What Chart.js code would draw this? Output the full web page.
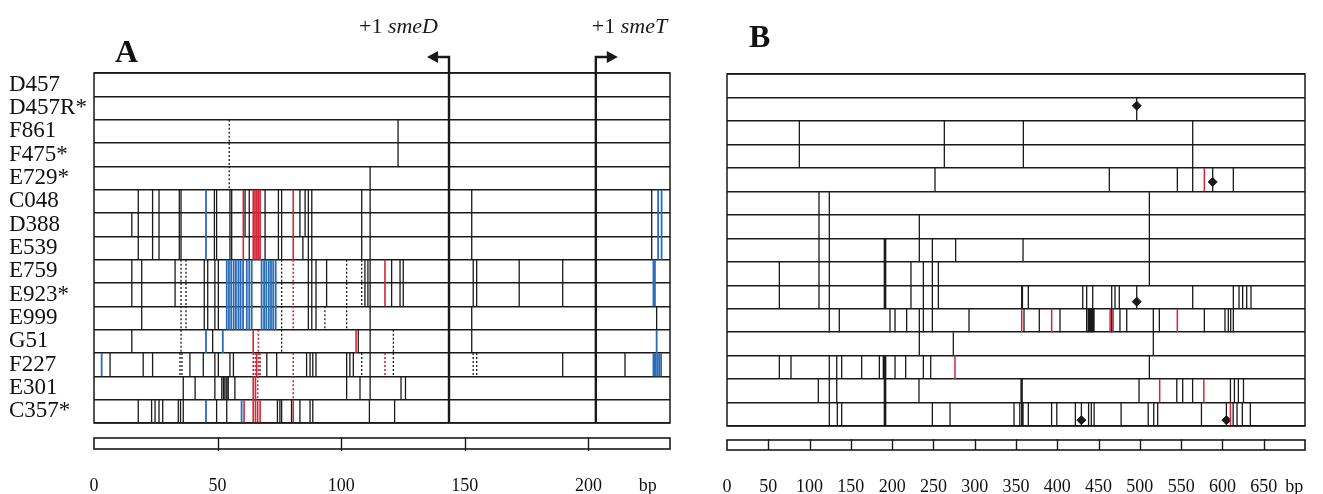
<!DOCTYPE html>
<html>
<head>
<meta charset="utf-8">
<script src="https://cdn.jsdelivr.net/npm/chart.js@4.4.1/dist/chart.umd.min.js"></script>
<style>
  body { margin: 0; background: #fff; }
  #wrap { position: relative; width: 1323px; height: 494px; overflow: hidden; background: #fff; }
  canvas { position: absolute; top: 0; }
  .panel { position: absolute; font: bold 32px 'Liberation Serif', serif; color: #111; }
</style>
</head>
<body>
<div id="wrap">
  <canvas id="chartA" width="700" height="494" style="left:0"></canvas>
  <canvas id="chartB" width="623" height="494" style="left:700px"></canvas>
  <div class="panel" style="left:115px; top:33px">A</div>
  <div class="panel" style="left:749px; top:18px">B</div>
</div>
<script>
// strains, top to bottom
const strains = ['D457', 'D457R*', 'F861', 'F475*', 'E729*', 'C048', 'D388', 'E539',
  'E759', 'E923*', 'E999', 'G51', 'F227', 'E301', 'C357*'];

// axis ticks (bp)
const tickValsA = [0, 50, 100, 150, 200, 224];
const tickLabelsA = ['0', '50', '100', '150', '200', 'bp'];
const tickValsB = [0, 50, 100, 150, 200, 250, 300, 350, 400, 450, 500, 550, 600, 650, 687];
const tickLabelsB = ['0', '50', '100', '150', '200', '250', '300', '350', '400', '450', '500', '550', '600', '650', 'bp'];

// transcription start sites in panel A (bp)
const startSmeD = 143.6;
const startSmeT = 203.0;

// PANEL A - polymorphic positions per strain (bp)
const blackA = [
  [],
  [],
  [123.0],
  [123.0],
  [111.7],
  [17.9, 23.7, 26.3, 34.5, 35.2, 48.7, 49.6, 55.0, 55.7, 61.1, 62.8, 69.2, 74.6, 75.9, 83.3, 85.4, 86.7, 88.1, 108.3, 111.7, 152.8, 225.6],
  [15.3, 17.9, 23.7, 26.3, 34.5, 35.2, 48.7, 49.6, 55.0, 55.7, 61.1, 62.8, 69.2, 74.6, 75.9, 83.3, 85.4, 86.7, 88.1, 108.3, 111.7, 152.8, 225.6],
  [17.9, 23.7, 26.3, 34.5, 35.2, 48.7, 49.6, 55.0, 55.7, 62.8, 69.2, 74.6, 75.9, 84.5, 86.7, 88.1, 108.3, 111.7, 152.8, 225.6],
  [15.3, 19.3, 32.8, 44.6, 46.0, 48.9, 50.3, 86.7, 88.1, 89.8, 94.1, 109.6, 110.8, 111.7, 120.4, 123.8, 125.1, 153.4, 154.8, 172.0, 189.6],
  [15.3, 19.3, 32.8, 44.6, 46.0, 48.9, 50.3, 86.7, 88.1, 89.8, 94.1, 109.6, 110.8, 111.7, 120.4, 123.8, 125.1, 153.4, 154.8, 172.0, 189.6],
  [19.3, 44.6, 46.0, 48.9, 50.3, 86.7, 88.1, 89.8, 111.7, 152.8, 227.6],
  [15.3, 48.0, 106.9, 111.7, 152.8],
  [6.5, 19.9, 23.7, 38.8, 44.2, 48.9, 50.3, 55.0, 56.4, 69.9, 73.9, 86.0, 87.4, 88.5, 89.8, 102.2, 103.5, 104.9, 111.7, 189.6, 214.8],
  [36.1, 40.9, 48.9, 51.7, 52.4, 53.0, 53.7, 54.3, 57.0, 102.2, 107.6, 111.7, 124.2, 126.0],
  [17.9, 23.3, 24.7, 26.3, 27.8, 34.1, 35.0, 36.1, 49.6, 53.7, 74.2, 75.2, 75.9, 79.9, 83.3, 87.4, 88.5, 111.4, 121.6]
];
const dashA = [
  [], [], [54.7], [54.7], [54.7], [], [], [],
  [35.2, 37.2, 75.9, 102.2, 108.3],
  [35.2, 37.2, 75.9, 102.2, 108.3],
  [35.2, 37.2, 75.9, 93.4, 102.2],
  [35.2, 75.9, 121.1],
  [34.8, 35.6, 108.3, 121.1, 153.4, 154.8],
  [],
  []
];
const blueA = [
  [], [], [], [], [],
  [45.3, 228.2, 229.6],
  [45.3, 228.2, 229.6],
  [45.3, 228.2, 229.6],
  [53.7, 54.6, 55.5, 56.5, 57.4, 58.4, 59.3, 60.3, 61.8, 62.8, 63.8, 67.8, 68.8, 69.7, 70.7, 71.6, 72.5, 73.5, 226.3, 226.9],
  [53.7, 54.6, 55.5, 56.5, 57.4, 58.4, 59.3, 60.3, 61.8, 62.8, 63.8, 67.8, 68.8, 69.7, 70.7, 71.6, 72.5, 73.5, 226.3, 226.9],
  [53.7, 54.6, 55.5, 56.5, 57.4, 58.4, 59.3, 60.3, 61.8, 62.8, 63.8, 67.8, 68.8, 69.7, 70.7, 71.6, 72.5, 73.5],
  [45.3, 52.1, 227.6],
  [3.1, 226.3, 227.0, 227.8, 228.6, 229.4],
  [],
  [45.3, 59.7]
];
const redA = [
  [], [], [], [], [],
  [60.4, 64.4, 65.1, 65.8, 66.5, 67.2, 80.6],
  [60.4, 64.4, 65.1, 65.8, 66.5, 67.2, 80.6],
  [60.4, 64.4, 65.1, 65.8, 66.5, 67.2, 80.6],
  [117.7],
  [117.7],
  [],
  [64.4, 106.0],
  [65.8],
  [64.4, 65.3],
  [60.7, 64.4, 65.3, 66.2, 67.2, 80.6]
];
const redDashA = [
  [], [], [], [], [], [], [], [],
  [80.6],
  [80.6],
  [80.6],
  [66.5],
  [64.4, 65.3, 66.5, 67.2, 80.6, 117.7],
  [66.2, 80.6],
  []
];

// PANEL B
const blackB = [
  [],
  [496.2],
  [87.6, 263.2, 358.9, 564.0],
  [87.6, 263.2, 358.9, 564.0],
  [251.9, 463.0, 545.4, 564.0, 588.2, 613.2],
  [111.4, 123.9, 511.5],
  [111.4, 123.9, 232.9, 511.5],
  [111.4, 123.9, 190.5, 191.5, 192.2, 232.9, 248.7, 276.9, 358.5, 511.5],
  [63.4, 111.4, 123.9, 190.5, 191.5, 192.2, 222.8, 237.8, 248.7, 256.0, 511.5],
  [63.4, 111.4, 123.9, 190.5, 191.5, 192.2, 222.8, 237.8, 248.7, 256.0, 356.9, 357.8, 364.9, 430.8, 435.6, 442.9, 465.9, 469.9, 475.1, 496.2, 564.0, 613.2, 620.1, 624.5, 629.4, 634.6],
  [123.9, 136.0, 197.4, 203.5, 217.6, 232.9, 237.8, 248.7, 293.1, 359.7, 378.2, 403.3, 435.6, 437.6, 438.8, 440.0, 441.2, 442.4, 443.6, 444.5, 465.9, 475.9, 484.1, 516.3, 523.6, 578.1, 603.1, 607.1, 610.0, 613.2],
  [232.9, 274.1, 516.3],
  [63.4, 77.5, 123.9, 132.9, 138.9, 163.1, 184.5, 189.3, 190.5, 191.5, 192.2, 203.5, 216.4, 237.8, 246.7, 511.5],
  [110.6, 123.9, 132.9, 190.5, 191.5, 192.2, 232.5, 356.1, 357.5, 499.0, 544.7, 551.9, 563.9, 609.7, 614.5, 619.3, 625.5],
  [123.9, 133.6, 138.9, 190.5, 191.5, 192.2, 248.7, 270.1, 347.6, 354.6, 356.9, 358.5, 364.9, 393.1, 399.4, 421.9, 429.2, 437.9, 441.2, 444.6, 477.3, 510.1, 516.8, 521.6, 574.6, 604.8, 613.0, 617.7, 624.1, 633.8]
];
const redB = [
  [], [], [], [],
  [578.1],
  [], [], [], [], [],
  [356.9, 393.2, 464.0, 467.6, 545.4],
  [],
  [276.1],
  [524.0, 577.5],
  [609.7]
];
const diamondPosB = [496.2, 588.2, 496.2, 429.2, 604.8];
const diamondRowB = [1.35, 4.6, 9.7, 14.75, 14.75];

const SERIF = "'Liberation Serif', 'Times New Roman', serif";
const INK = '#1a1a1a';
const BLUE = '#2a6cb6';
const RED = '#d3273a';

// one dataset of vertical strokes, one stroke per row entry
function strokes(rows, color, width, dash) {
  const data = [];
  rows.forEach((list, r) => {
    list.forEach(p => {
      data.push({x: p, y: r}, {x: p, y: r + 1}, {x: p, y: null});
    });
  });
  return {
    data: data, showLine: true, spanGaps: false, pointRadius: 0,
    borderColor: color, borderWidth: width, borderDash: dash || [],
    xAxisID: 'x', yAxisID: 'y'
  };
}

// box, scale bar and +1 arrows
const framePlugin = {
  id: 'frame',
  afterDraw(chart, args, opts) {
    const {ctx, chartArea: a} = chart;
    const x = chart.scales.x;
    ctx.save();
    ctx.strokeStyle = INK;
    ctx.lineWidth = 1.5;
    ctx.strokeRect(a.left, a.top, a.right - a.left, a.bottom - a.top);

    // scale bar
    const x0 = x.getPixelForValue(x.min), x1 = x.getPixelForValue(x.max);
    const by = a.bottom + opts.barGap;
    ctx.lineWidth = 1.6;
    ctx.strokeRect(x0, by, x1 - x0, opts.barH);
    ctx.lineWidth = 1.4;
    for (let v = 50; v < x.max; v += 50) {
      const px = Math.round(x.getPixelForValue(v)) + 0.5;
      ctx.beginPath();
      ctx.moveTo(px, by - 1);
      ctx.lineTo(px, by + opts.barH + opts.tickOut);
      ctx.stroke();
    }

    // transcription starts
    (opts.starts || []).forEach(s => {
      const px = x.getPixelForValue(s.pos);
      const ay = 57;
      ctx.strokeStyle = INK;
      ctx.fillStyle = INK;
      ctx.lineWidth = 2.4;
      ctx.beginPath();
      ctx.moveTo(px, a.bottom);
      ctx.lineTo(px, ay);
      ctx.lineTo(px + s.dir * 12, ay);
      ctx.stroke();
      ctx.beginPath();
      ctx.moveTo(px + s.dir * 22, ay);
      ctx.lineTo(px + s.dir * 11, ay - 6);
      ctx.lineTo(px + s.dir * 11, ay + 6);
      ctx.closePath();
      ctx.fill();

      ctx.textBaseline = 'alphabetic';
      ctx.font = '22px ' + SERIF;
      const w1 = ctx.measureText('+1 ').width;
      ctx.font = 'italic 22px ' + SERIF;
      const w2 = ctx.measureText(s.gene).width;
      const tx = s.dir < 0 ? px - 11 - w1 - w2 : px - 4;
      ctx.font = '22px ' + SERIF;
      ctx.fillText('+1 ', tx, 33);
      ctx.font = 'italic 22px ' + SERIF;
      ctx.fillText(s.gene, tx + w1, 33);
    });
    ctx.restore();
  }
};

// labels pushed down with an invisible tick length (tick padding would shrink the plot)
function xAxis(max, vals, labels, height, drop) {
  return {
    type: 'linear', min: 0, max: max,
    grid: {display: false, drawTicks: true, tickLength: drop},
    border: {display: false},
    afterBuildTicks: s => { s.ticks = vals.map(v => ({value: v})); },
    afterFit: s => { s.height = height; },
    ticks: {
      autoSkip: false, maxRotation: 0, padding: 0, color: '#111',
      font: {family: SERIF, size: 18},
      callback: (v, i) => labels[i]
    }
  };
}

const rowAxis = {
  type: 'linear', min: 0, max: 15, reverse: true, position: 'left',
  ticks: {display: false, stepSize: 1},
  grid: {color: INK, lineWidth: 1.4, drawTicks: false},
  border: {display: false},
  afterFit: s => { s.width = 0; }
};

// PANEL A
new Chart(document.getElementById('chartA'), {
  type: 'scatter',
  data: {
    datasets: [
      strokes(blackA, INK, 1.3),
      strokes(dashA, INK, 1.3, [2, 2]),
      strokes(blueA, BLUE, 1.8),
      strokes(redA, RED, 1.6),
      strokes(redDashA, RED, 1.6, [2, 2])
    ]
  },
  options: {
    responsive: false, animation: false, events: [],
    layout: {padding: {left: 9, right: 30, top: 73, bottom: 0}},
    plugins: {
      legend: {display: false}, tooltip: {enabled: false},
      frame: {
        barGap: 15, barH: 11, tickOut: 2,
        starts: [{pos: startSmeD, dir: -1, gene: 'smeD'}, {pos: startSmeT, dir: 1, gene: 'smeT'}]
      }
    },
    scales: {
      x: xAxis(233, tickValsA, tickLabelsA, 71, 52),
      y: rowAxis,
      yl: {
        type: 'category', labels: strains, offset: true, position: 'left',
        grid: {display: false, drawTicks: false},
        border: {display: false},
        ticks: {crossAlign: 'far', autoSkip: false, color: '#111', font: {family: SERIF, size: 23}},
        afterFit: s => { s.width = 85; }
      }
    }
  },
  plugins: [framePlugin]
});

// PANEL B
new Chart(document.getElementById('chartB'), {
  type: 'scatter',
  data: {
    datasets: [
      strokes(blackB, INK, 1.3),
      strokes(redB, RED, 1.5),
      {
        data: diamondPosB.map((p, i) => ({x: p, y: diamondRowB[i]})),
        pointStyle: 'rectRot', pointRadius: 4.5, backgroundColor: INK, borderColor: INK,
        borderWidth: 1, showLine: false, xAxisID: 'x', yAxisID: 'y'
      }
    ]
  },
  options: {
    responsive: false, animation: false, events: [],
    layout: {padding: {left: 27, right: 18, top: 74, bottom: 0}},
    plugins: {
      legend: {display: false}, tooltip: {enabled: false},
      frame: {barGap: 14, barH: 10, tickOut: 0}
    },
    scales: {
      x: xAxis(700, tickValsB, tickLabelsB, 68, 50),
      y: Object.assign({}, rowAxis)
    }
  },
  plugins: [framePlugin]
});
</script>
</body>
</html>
